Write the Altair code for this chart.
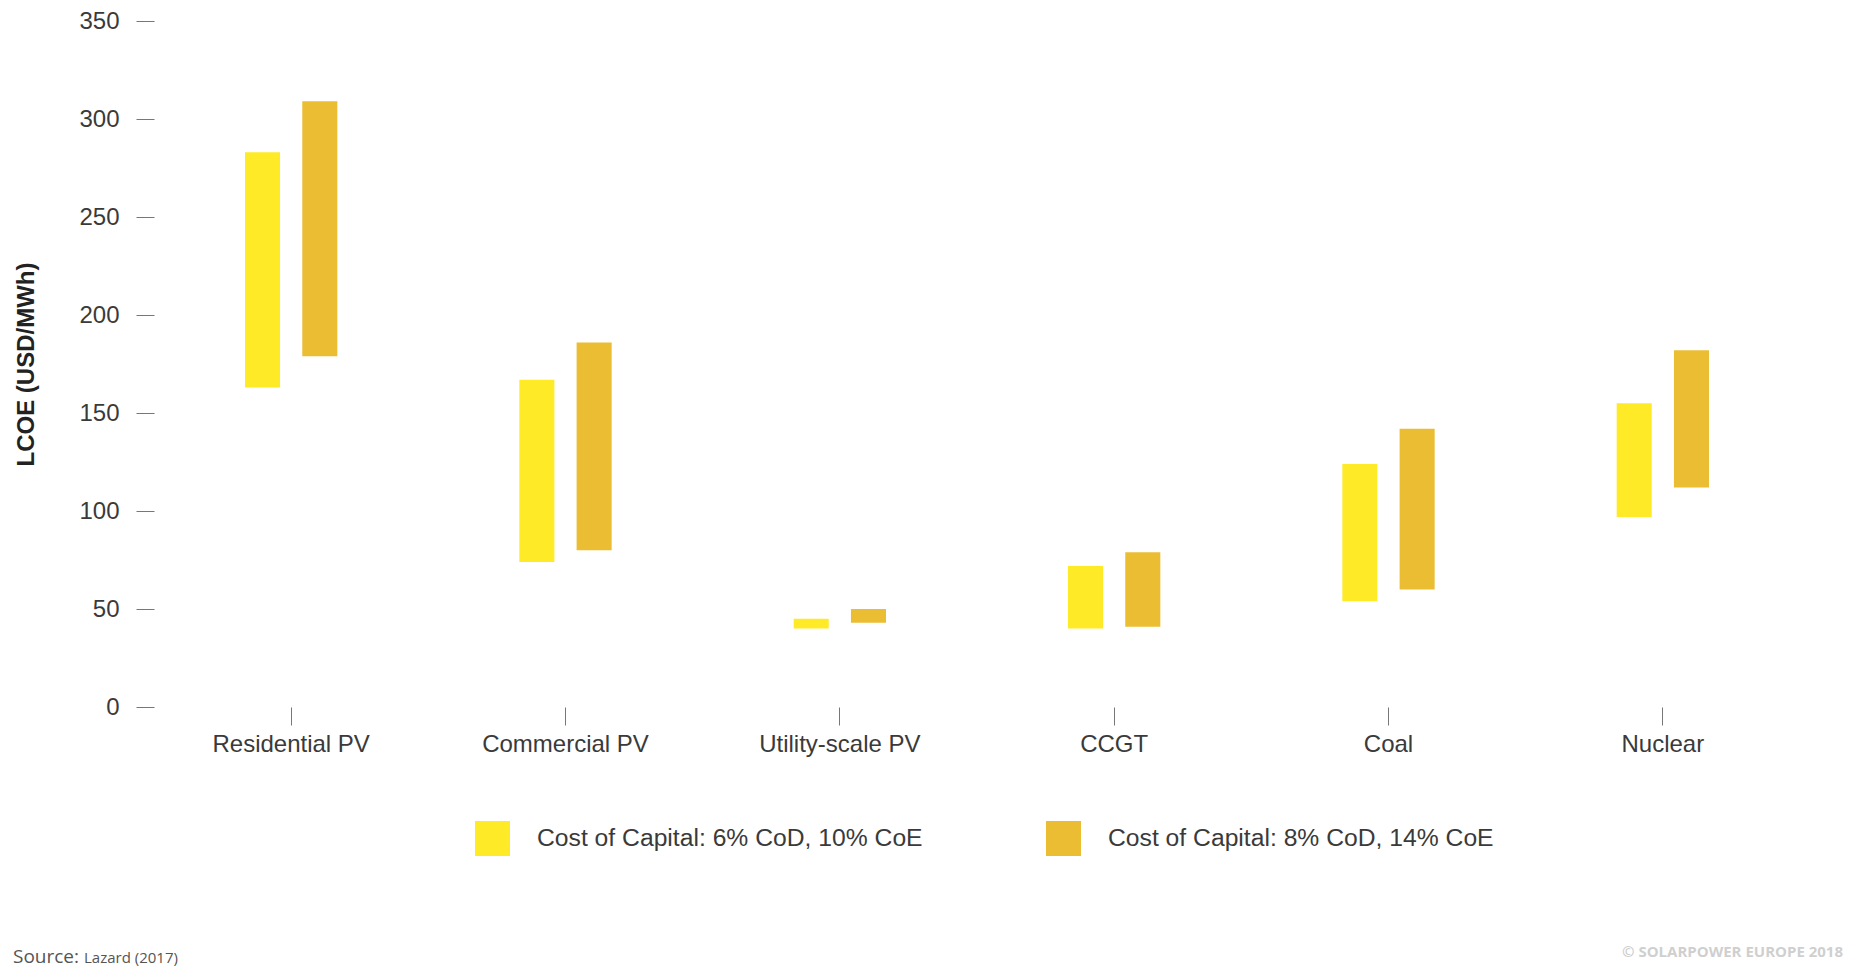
import altair as alt
import pandas as pd

# LCOE ranges (USD/MWh) under two cost-of-capital assumptions, Lazard (2017)
categories = ["Residential PV", "Commercial PV", "Utility-scale PV", "CCGT", "Coal", "Nuclear"]
series = ["Cost of Capital: 6% CoD, 10% CoE", "Cost of Capital: 8% CoD, 14% CoE"]
low_6 = [163, 74, 40, 40, 54, 97]
high_6 = [283, 167, 45, 72, 124, 155]
low_8 = [179, 80, 43, 41, 60, 112]
high_8 = [309, 186, 50, 79, 142, 182]
colors = ["#FEEA26", "#EBBD32"]

rows = []
for i, c in enumerate(categories):
    rows.append({"tech": c, "case": series[0], "low": low_6[i], "high": high_6[i]})
    rows.append({"tech": c, "case": series[1], "low": low_8[i], "high": high_8[i]})
df = pd.DataFrame(rows)

FONT = "Liberation Sans"
W, H = 1646, 686

bars = alt.Chart(df).mark_bar().encode(
    x=alt.X("tech:N", sort=categories, title=None,
            scale=alt.Scale(paddingInner=0.6635, paddingOuter=0.33175),
            axis=alt.Axis(domain=False, labelAngle=0, tickSize=18, tickColor="#777",
                          tickWidth=1, labelPadding=7, labelFontSize=24,
                          labelFont=FONT, labelColor="#3a3a3a")),
    xOffset=alt.XOffset("case:N", sort=series,
                        scale=alt.Scale(paddingInner=0.388, paddingOuter=0)),
    y=alt.Y("low:Q", title="LCOE (USD/MWh)",
            scale=alt.Scale(domain=[0, 350], nice=False),
            axis=alt.Axis(values=[0, 50, 100, 150, 200, 250, 300, 350], domain=False,
                          grid=False, tickSize=18, tickColor="#777", tickWidth=1,
                          labelPadding=17, labelFontSize=24, labelFont=FONT,
                          labelColor="#3a3a3a", titleFont=FONT, titleFontSize=24,
                          titleFontWeight="bold", titleColor="#222", titlePadding=40)),
    y2="high:Q",
    color=alt.Color("case:N", sort=series,
                    scale=alt.Scale(domain=series, range=colors),
                    legend=alt.Legend(title=None, orient="none", direction="horizontal",
                                      legendX=321, legendY=800, symbolType="square",
                                      symbolSize=1225, symbolStrokeWidth=0,
                                      labelFontSize=24.7, labelFont=FONT, labelLimit=0,
                                      labelColor="#3a3a3a", labelOffset=27,
                                      columnPadding=123, padding=0)),
)

note = pd.DataFrame([{"t": "x"}])
source_a = alt.Chart(note).mark_text(
    text="Source:", font="Open Sans", fontSize=19, color="#555", align="left",
    baseline="alphabetic").encode(x=alt.value(-141), y=alt.value(942))
source_b = alt.Chart(note).mark_text(
    text="Lazard (2017)", font="Open Sans", fontSize=15, color="#555", align="left",
    baseline="alphabetic").encode(x=alt.value(-70), y=alt.value(942))
mark_copy = alt.Chart(note).mark_text(
    text="© SOLARPOWER EUROPE 2018", font="Open Sans", fontWeight="bold", fontSize=15,
    color="#cfcfcf", align="right", baseline="alphabetic").encode(
    x=alt.value(1689), y=alt.value(936))

chart = alt.layer(bars, source_a, source_b, mark_copy).properties(
    width=W, height=H,
    background="white",
    autosize=alt.AutoSizeParams(type="none"),
    padding={"left": 154, "top": 21, "right": 56, "bottom": 262},
).configure_view(strokeWidth=0, stroke=None)

chart.save("out.html", embed_options={"renderer": "svg", "actions": False})
